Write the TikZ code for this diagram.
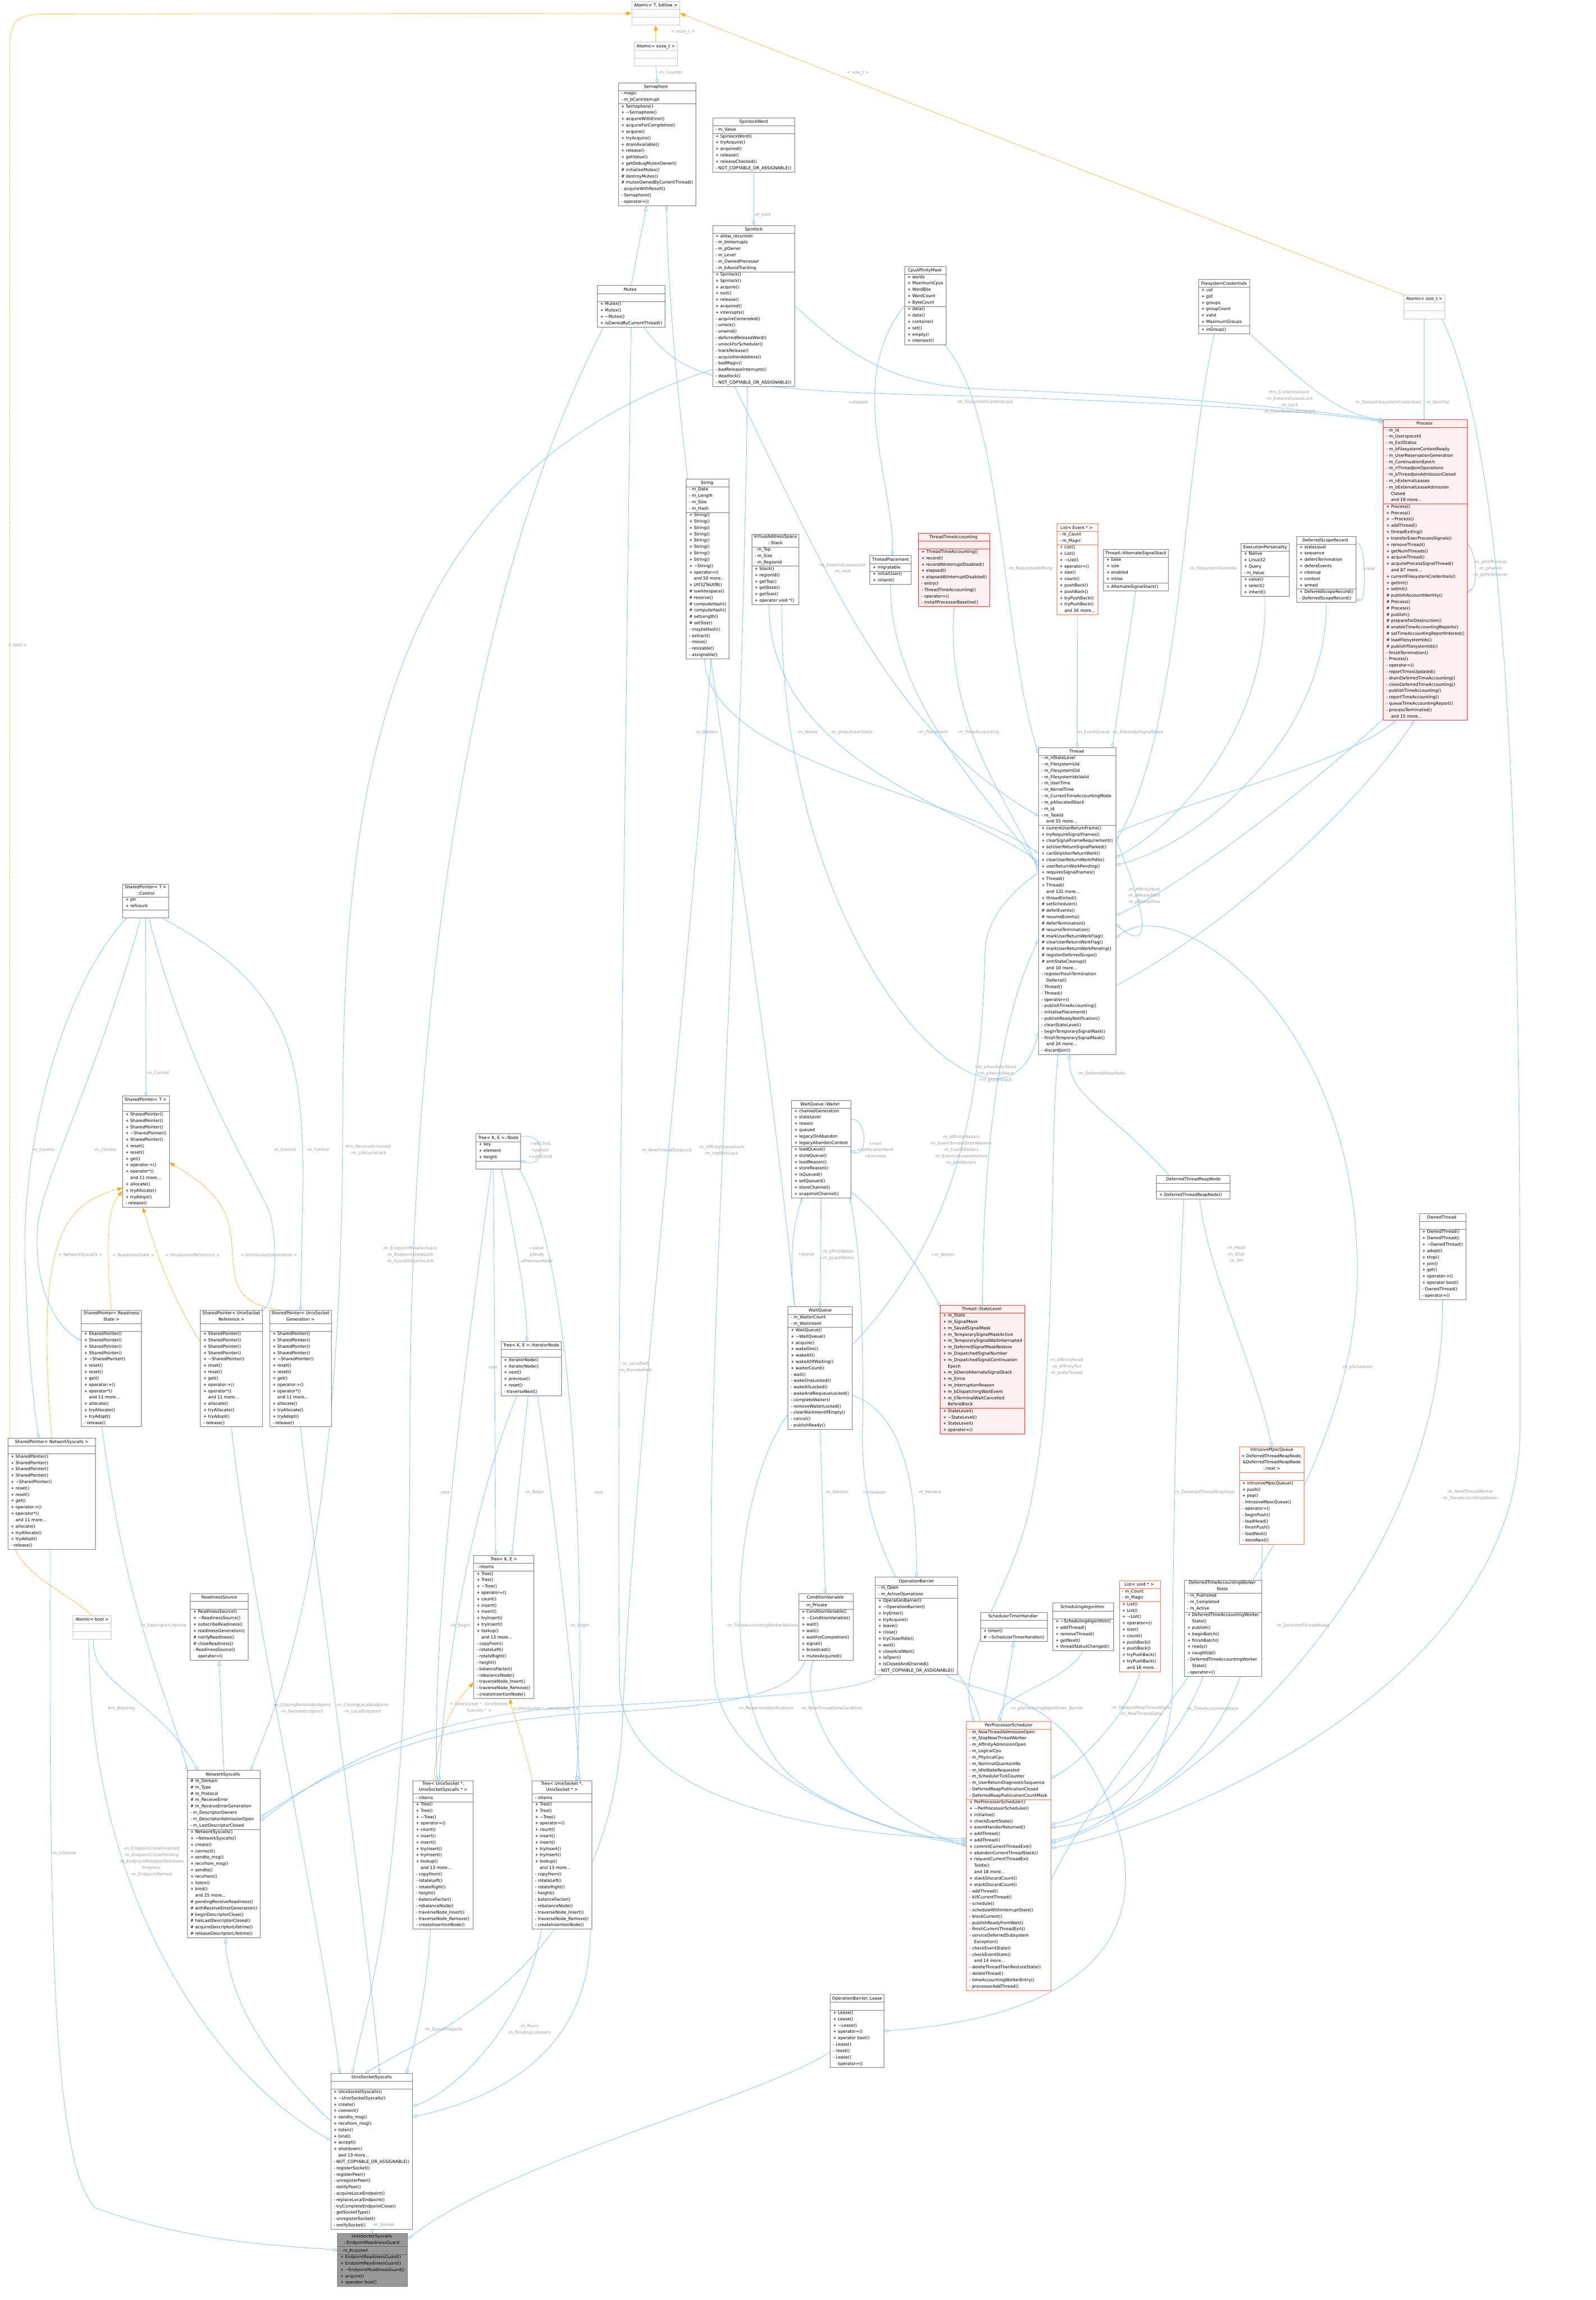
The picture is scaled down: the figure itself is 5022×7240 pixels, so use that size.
\documentclass[tikz,border=0pt]{standalone}
\usepackage{fontspec}
\setmainfont{DejaVu Sans}
\usetikzlibrary{calc,fit,arrows.meta,positioning}
\definecolor{edgeblue}{HTML}{63B8FF}
\definecolor{tmplorange}{HTML}{FFA500}
\definecolor{lblgray}{HTML}{9A9A9A}
\definecolor{boxgray}{HTML}{666666}
\definecolor{lightgray}{HTML}{BFBFBF}
\definecolor{redfill}{HTML}{FFF0F0}
\definecolor{orangered}{HTML}{FF5722}
\pgfdeclarelayer{edges}
\pgfdeclarelayer{boxes}
\pgfsetlayers{edges,boxes,main}
\newcommand{\mo}{\hphantom{+ }}
% one class box: title, attributes, methods
\newcommand{\umlclass}[7][plain]{%
  \node[ttl, minimum width=#4*0.25pt, anchor=north west] (#2-t) at (#3) {#5};
  \node[sec, anchor=north west] (#2-a) at (#2-t.south west) {#6};
  \node[sec, anchor=north west] (#2-m) at (#2-a.south west) {#7};
  \begin{pgfonlayer}{boxes}
    \node[fit=(#2-t)(#2-a)(#2-m), inner sep=0, #1] (#2) {};
    \draw[#1, fill=none] (#2-a.north -| #2.west) -- (#2-a.north -| #2.east);
    \draw[#1, fill=none] (#2-m.north -| #2.west) -- (#2-m.north -| #2.east);
  \end{pgfonlayer}}
\tikzset{
  txt/.style={font=\fontsize{3.3}{5}\selectfont},
  ttl/.style={txt, align=center, inner xsep=1pt, inner ysep=0.4pt,
    execute at begin node=\strut, execute at end node=\strut},
  sec/.style={txt, align=left, inner xsep=2pt, inner ysep=0.4pt,
    execute at begin node=\strut, execute at end node=\strut},
  plain/.style={draw=boxgray, fill=white, line width=0.3pt},
  light/.style={draw=lightgray, fill=white, line width=0.3pt},
  redbox/.style={draw=red, fill=redfill, line width=0.35pt},
  orbox/.style={draw=orangered, fill=white, line width=0.35pt},
  focus/.style={draw=boxgray, fill=black!40, line width=0.35pt},
  lbl/.style={txt, text=lblgray, align=center, inner sep=0},
  agg/.style={draw=edgeblue, line width=0.3pt, -{Diamond[open, length=4pt, width=2.4pt]}},
  inh/.style={draw=edgeblue, line width=0.3pt, -{Triangle[open, length=4pt, width=3pt]}},
  tmpl/.style={draw=tmplorange, line width=0.3pt, dash pattern=on 3pt off 0.4pt, -{Triangle[length=4pt, width=3pt]}}
}
\begin{document}
\catcode`\_=12
\catcode`\~=12
\begin{tikzpicture}[x=0.25pt, y=-0.25pt]
\useasboundingbox (0,0) rectangle (5022,7240);

% top row
\umlclass[light]{atomict}{1988,5}{150}{Atomic< T, bAllow >}{}{}
\umlclass[light]{atomicss}{1996,133}{135}{Atomic< ssize_t >}{}{}
\umlclass{sem}{1946,261}{235}{Semaphore}{- magic\\- m_bCanInterrupt}{+ Semaphore()\\+ ~Semaphore()\\+ acquireWithError()\\+ acquireForCompletion()\\+ acquire()\\+ tryAcquire()\\+ drainAvailable()\\+ release()\\+ getValue()\\+ getDebugMutexOwner()\\\# initialiseMutex()\\\# destroyMutex()\\\# mutexOwnedByCurrentThread()\\- acquireWithResult()\\- Semaphore()\\- operator=()}
\umlclass{spw}{2243,371}{257}{SpinlockWord}{- m_Value}{+ SpinlockWord()\\+ tryAcquire()\\+ acquired()\\+ release()\\+ releaseChecked()\\- NOT_COPYABLE_OR_ASSIGNABLE()}
\umlclass{spin}{2243,710}{257}{Spinlock}{+ allow_recursion\\- m_bInterrupts\\- m_pOwner\\- m_Level\\- m_OwnedProcessor\\- m_bAvoidTracking}{+ Spinlock()\\+ Spinlock()\\+ acquire()\\+ exit()\\+ release()\\+ acquired()\\+ interrupts()\\- acquireContended()\\- unlock()\\- unwind()\\- deferredReleaseWord()\\- unlockForScheduler()\\- trackRelease()\\- acquisitionAddress()\\- badMagic()\\- badReleaseInterrupts()\\- deadlock()\\- NOT_COPYABLE_OR_ASSIGNABLE()}
\umlclass{mutex}{1880,899}{205}{Mutex}{}{+ Mutex()\\+ Mutex()\\+ ~Mutex()\\+ isOwnedByCurrentThread()}
\umlclass{cpu}{2847,839}{126}{CpuAffinityMask}{+ words\\+ MaximumCpus\\+ WordBits\\+ WordCount\\+ ByteCount}{+ data()\\+ data()\\+ contains()\\+ set()\\+ empty()\\+ intersect()}
\umlclass{fscred}{3772,880}{159}{FilesystemCredentials}{+ uid\\+ gid\\+ groups\\+ groupCount\\+ valid\\+ MaximumGroups}{+ inGroup()}
\umlclass[light]{atomicst}{4418,929}{128}{Atomic< size_t >}{}{}
\umlclass[redbox]{proc}{4354,1321}{257}{Process}{- m_Id\\- m_UserspaceId\\- m_ExitStatus\\- m_bFilesystemContextReady\\- m_UserReservationGeneration\\- m_ContinuationEpoch\\- m_nThreadJoinOperations\\- m_bThreadJoinAdmissionClosed\\- m_nExternalLeases\\- m_bExternalLeaseAdmission\\\mo Closed\\\mo and 19 more...}{+ Process()\\+ Process()\\+ ~Process()\\+ addThread()\\+ threadExiting()\\+ transferExecProcessSignals()\\+ removeThread()\\+ getNumThreads()\\+ acquireThread()\\+ acquireProcessSignalThread()\\\mo and 87 more...\\+ currentFilesystemCredentials()\\+ getInit()\\+ setInit()\\\# publishAccountIdentity()\\\# Process()\\\# Process()\\\# publish()\\\# prepareForDestruction()\\\# enableTimeAccountingReports()\\\# setTimeAccountingReportInterest()\\\# loadFilesystemIds()\\\# publishFilesystemIds()\\- finishTermination()\\- Process()\\- operator=()\\- reportTimesUpdated()\\- drainDeferredTimeAccounting()\\- closeDeferredTimeAccounting()\\- publishTimeAccounting()\\- reportTimeAccounting()\\- queueTimeAccountingReport()\\- processTerminated()\\\mo and 15 more...}

% second row
\umlclass{string}{2160,1508}{129}{String}{- m_Data\\- m_Length\\- m_Size\\- m_Hash}{+ String()\\+ String()\\+ String()\\+ String()\\+ String()\\+ String()\\+ String()\\+ String()\\+ ~String()\\+ operator=()\\\mo and 50 more...\\+ Utf32ToUtf8()\\\# iswhitespace()\\\# reserve()\\\# computeHash()\\\# computeHash()\\\# setLength()\\\# setSize()\\- maybeHash()\\- extract()\\- move()\\- resizable()\\- assignable()}
\umlclass{stack}{2366,1681}{147}{VirtualAddressSpace\\::Stack}{- m_Top\\- m_Size\\- m_RegionId}{+ Stack()\\+ regionId()\\+ getTop()\\+ getBase()\\+ getSize()\\+ operator void *()}
\umlclass{place}{2738,1749}{128}{ThreadPlacement}{+ migratable}{+ initialUser()\\+ inherit()}
\umlclass[redbox]{tta}{2891,1679}{217}{ThreadTimeAccounting}{}{+ ThreadTimeAccounting()\\+ record()\\+ recordAtInterruptDisabled()\\+ elapsed()\\+ elapsedAtInterruptDisabled()\\- entry()\\- ThreadTimeAccounting()\\- operator=()\\- installProcessorBaseline()}
\umlclass[orbox]{listev}{3326,1649}{123}{List< Event * >}{- m_Count\\- m_Magic}{+ List()\\+ List()\\+ ~List()\\+ operator=()\\+ size()\\+ count()\\+ pushBack()\\+ pushBack()\\+ tryPushBack()\\+ tryPushBack()\\\mo and 16 more...}
\umlclass{altss}{3473,1729}{202}{Thread::AlternateSignalStack}{+ base\\+ size\\+ enabled\\+ inUse}{+ AlternateSignalStack()}
\umlclass{pers}{3906,1710}{150}{ExecutionPersonality}{+ Native\\+ Linux32\\+ Query\\- m_Value}{+ value()\\+ select()\\+ inherit()}
\umlclass{dsr}{4081,1689}{178}{DeferredScopeRecord}{+ stateLevel\\+ sequence\\+ defersTermination\\+ defersEvents\\+ cleanup\\+ context\\+ armed}{+ DeferredScopeRecord()\\- DeferredScopeRecord()}

\umlclass{thread}{3269,2353}{237}{Thread}{- m_nStateLevel\\- m_FilesystemUid\\- m_FilesystemGid\\- m_FilesystemIdsValid\\- m_UserTime\\- m_KernelTime\\- m_CurrentTimeAccountingMode\\- m_pAllocatedStack\\- m_Id\\- m_TaskId\\\mo and 55 more...}{+ currentUserReturnFrame()\\+ tryRequireSignalFrames()\\+ clearSignalFrameRequirement()\\+ setUserReturnSignalParked()\\+ canSkipUserReturnWork()\\+ clearUserReturnWorkIfIdle()\\+ userReturnWorkPending()\\+ requiresSignalFrames()\\+ Thread()\\+ Thread()\\\mo and 132 more...\\+ threadExited()\\\# setScheduler()\\\# deferEvents()\\\# resumeEvents()\\\# deferTermination()\\\# resumeTermination()\\\# markUserReturnWorkFlag()\\\# clearUserReturnWorkFlag()\\\# markUserReturnWorkPending()\\\# registerDeferredScope()\\\# armStateCleanup()\\\mo and 10 more...\\- registerFreshTermination\\\mo Deferral()\\- Thread()\\- Thread()\\- operator=()\\- publishTimeAccounting()\\- initialisePlacement()\\- publishReadyNotification()\\- cleanStateLevel()\\- beginTemporarySignalMask()\\- finishTemporarySignalMask()\\\mo and 24 more...\\- discardJoin()}

% shared pointers
\umlclass{control}{386,2784}{143}{SharedPointer< T >\\::Control}{+ ptr\\+ refcount}{}
\umlclass{sp}{386,3450}{143}{SharedPointer< T >}{}{+ SharedPointer()\\+ SharedPointer()\\+ SharedPointer()\\+ ~SharedPointer()\\+ SharedPointer()\\+ reset()\\+ reset()\\+ get()\\+ operator->()\\+ operator*()\\\mo and 11 more...\\+ allocate()\\+ tryAllocate()\\+ tryAdopt()\\- release()}
\umlclass{sprs}{256,4125}{188}{SharedPointer< Readiness\\State >}{}{+ SharedPointer()\\+ SharedPointer()\\+ SharedPointer()\\+ SharedPointer()\\+ ~SharedPointer()\\+ reset()\\+ reset()\\+ get()\\+ operator->()\\+ operator*()\\\mo and 11 more...\\+ allocate()\\+ tryAllocate()\\+ tryAdopt()\\- release()}
\umlclass{spur}{631,4125}{193}{SharedPointer< UnixSocket\\Reference >}{}{+ SharedPointer()\\+ SharedPointer()\\+ SharedPointer()\\+ SharedPointer()\\+ ~SharedPointer()\\+ reset()\\+ reset()\\+ get()\\+ operator->()\\+ operator*()\\\mo and 11 more...\\+ allocate()\\+ tryAllocate()\\+ tryAdopt()\\- release()}
\umlclass{spug}{849,4125}{192}{SharedPointer< UnixSocket\\Generation >}{}{+ SharedPointer()\\+ SharedPointer()\\+ SharedPointer()\\+ SharedPointer()\\+ ~SharedPointer()\\+ reset()\\+ reset()\\+ get()\\+ operator->()\\+ operator*()\\\mo and 11 more...\\+ allocate()\\+ tryAllocate()\\+ tryAdopt()\\- release()}
\umlclass{spns}{25,4527}{274}{SharedPointer< NetworkSyscalls >}{}{+ SharedPointer()\\+ SharedPointer()\\+ SharedPointer()\\+ SharedPointer()\\+ ~SharedPointer()\\+ reset()\\+ reset()\\+ get()\\+ operator->()\\+ operator*()\\\mo and 11 more...\\+ allocate()\\+ tryAllocate()\\+ tryAdopt()\\- release()}

% trees
\umlclass{tnode}{1498,3569}{139}{Tree< K, E >::Node}{+ key\\+ element\\+ height}{}
\umlclass{titer}{1577,4223}{188}{Tree< K, E >::IteratorNode}{}{+ IteratorNode()\\+ IteratorNode()\\+ next()\\+ previous()\\+ reset()\\- traverseNext()}
\umlclass{tke}{1491,4896}{188}{Tree< K, E >}{- nItems}{+ Tree()\\+ Tree()\\+ ~Tree()\\+ operator=()\\+ count()\\+ insert()\\+ insert()\\+ tryInsert()\\+ tryInsert()\\+ lookup()\\\mo and 13 more...\\- copyFrom()\\- rotateLeft()\\- rotateRight()\\- height()\\- balanceFactor()\\- rebalanceNode()\\- traverseNode_Insert()\\- traverseNode_Remove()\\- createInsertionNode()}
\umlclass{tusss}{1300,5606}{188}{Tree< UnixSocket *,\\UnixSocketSyscalls * >}{- nItems}{+ Tree()\\+ Tree()\\+ ~Tree()\\+ operator=()\\+ count()\\+ insert()\\+ insert()\\+ tryInsert()\\+ tryInsert()\\+ lookup()\\\mo and 13 more...\\- copyFrom()\\- rotateLeft()\\- rotateRight()\\- height()\\- balanceFactor()\\- rebalanceNode()\\- traverseNode_Insert()\\- traverseNode_Remove()\\- createInsertionNode()}
\umlclass{tus}{1675,5606}{186}{Tree< UnixSocket *,\\UnixSocket * >}{- nItems}{+ Tree()\\+ Tree()\\+ ~Tree()\\+ operator=()\\+ count()\\+ insert()\\+ insert()\\+ tryInsert()\\+ tryInsert()\\+ lookup()\\\mo and 13 more...\\- copyFrom()\\- rotateLeft()\\- rotateRight()\\- height()\\- balanceFactor()\\- rebalanceNode()\\- traverseNode_Insert()\\- traverseNode_Remove()\\- createInsertionNode()}

% wait queues
\umlclass{waiter}{2491,3464}{179}{WaitQueue::Waiter}{+ channelGeneration\\+ stateLevel\\+ reason\\+ queued\\+ legacyOnAbandon\\+ legacyAbandonContext}{+ loadQueue()\\+ storeQueue()\\+ loadReason()\\+ storeReason()\\+ isQueued()\\+ setQueued()\\+ storeChannel()\\+ snapshotChannel()}
\umlclass{waitq}{2480,4113}{201}{WaitQueue}{- m_WaiterCount\\- m_WaitIntent}{+ WaitQueue()\\+ ~WaitQueue()\\+ acquire()\\+ wakeOne()\\+ wakeAll()\\+ wakeAllIfWaiting()\\+ waiterCount()\\- wait()\\- wakeOneLocked()\\- wakeAllLocked()\\- wakeAndRequeueLocked()\\- completeWaiter()\\- removeWaiterLocked()\\- clearWaitIntentIfEmpty()\\- cancel()\\- publishReady()}
\umlclass[redbox]{sl}{2959,4108}{259}{Thread::StateLevel}{+ m_State\\+ m_SignalMask\\+ m_SavedSignalMask\\+ m_TemporarySignalMaskActive\\+ m_TemporarySignalWaitInterrupted\\+ m_DeferredSignalMaskRestore\\+ m_DispatchedSignalNumber\\+ m_DispatchedSignalContinuation\\\mo Epoch\\+ m_bOwnsAlternateSignalStack\\+ m_Errno\\+ m_InterruptionReason\\+ m_bDispatchingWaitEvent\\+ m_bTerminalWaitCancelled\\\mo BeforeBlock}{+ StateLevel()\\+ ~StateLevel()\\+ StateLevel()\\+ operator=()}
\umlclass{cv}{2514,5016}{165}{ConditionVariable}{\mo m_Private}{+ ConditionVariable()\\+ ~ConditionVariable()\\+ wait()\\+ wait()\\+ waitForCompletion()\\+ signal()\\+ broadcast()\\+ mutexAcquired()}
\umlclass{ob}{2755,4965}{257}{OperationBarrier}{- m_Open\\- m_ActiveOperations}{+ OperationBarrier()\\+ ~OperationBarrier()\\+ tryEnter()\\+ tryAcquire()\\+ leave()\\+ close()\\+ tryCloseIfIdle()\\+ wait()\\+ closeAndWait()\\+ isOpen()\\+ isClosedAndDrained()\\- NOT_COPYABLE_OR_ASSIGNABLE()}
\umlclass{lease}{2613,6278}{168}{OperationBarrier::Lease}{}{+ Lease()\\+ Lease()\\+ ~Lease()\\+ operator=()\\+ operator bool()\\- Lease()\\- reset()\\- Lease()\\\mo operator=()}

% scheduler
\umlclass{sth}{3086,5076}{203}{SchedulerTimerHandler}{}{+ timer()\\\# ~SchedulerTimerHandler()}
\umlclass{salg}{3313,5046}{185}{SchedulingAlgorithm}{}{+ ~SchedulingAlgorithm()\\+ addThread()\\+ removeThread()\\+ getNext()\\+ threadStatusChanged()}
\umlclass[orbox]{lv}{3523,4976}{123}{List< void * >}{- m_Count\\- m_Magic}{+ List()\\+ List()\\+ ~List()\\+ operator=()\\+ size()\\+ count()\\+ pushBack()\\+ pushBack()\\+ tryPushBack()\\+ tryPushBack()\\\mo and 16 more...}
\umlclass{dtaws}{3728,4974}{236}{DeferredTimeAccountingWorker\\State}{- m_Published\\- m_Completed\\- m_Active}{+ DeferredTimeAccountingWorker\\\mo State()\\+ publish()\\+ beginBatch()\\+ finishBatch()\\+ ready()\\+ caughtUp()\\- DeferredTimeAccountingWorker\\\mo State()\\- operator=()}
\umlclass[orbox]{pps}{3042,5419}{264}{PerProcessorScheduler}{- m_NewThreadAdmissionOpen\\- m_StopNewThreadWorker\\- m_AffinityAdmissionOpen\\- m_LogicalCpu\\- m_PhysicalCpu\\- m_NominalQuantumNs\\- m_IdleWakeRequested\\- m_SchedulerTickCounter\\- m_UserReturnDiagnosticSequence\\- DeferredReapPublicationClosed\\- DeferredReapPublicationCountMask}{+ PerProcessorScheduler()\\+ ~PerProcessorScheduler()\\+ initialise()\\+ checkEventState()\\+ eventHandlerReturned()\\+ addThread()\\+ addThread()\\+ commitCurrentThreadExit()\\+ abandonCurrentThreadStack()\\+ requestCurrentThreadExit\\\mo ToIdle()\\\mo and 18 more...\\+ stackDiscardCount()\\+ stackDiscardCount()\\- addThread()\\- killCurrentThread()\\- schedule()\\- scheduleWithInterruptState()\\- blockCurrent()\\- publishReadyFromWait()\\- finishCurrentThreadExit()\\- serviceDeferredSubsystem\\\mo Exception()\\- checkEventState()\\- checkEventState()\\\mo and 14 more...\\- deleteThreadThenRestoreState()\\- deleteThread()\\- timeAccountingWorkerEntry()\\- processorAddThread()}
\umlclass[orbox]{mpsc}{3901,4555}{202}{IntrusiveMpscQueue\\< DeferredThreadReapNode,\\ \&DeferredThreadReapNode\\::next >}{}{+ IntrusiveMpscQueue()\\+ push()\\+ pop()\\- IntrusiveMpscQueue()\\- operator=()\\- beginPush()\\- loadHead()\\- finishPush()\\- loadNext()\\- storeNext()}
\umlclass{drn}{3640,3700}{230}{DeferredThreadReapNode}{}{+ DeferredThreadReapNode()}
\umlclass{owned}{4467,3820}{139}{OwnedThread}{}{+ OwnedThread()\\+ OwnedThread()\\+ ~OwnedThread()\\+ adopt()\\+ stop()\\+ join()\\+ get()\\+ operator->()\\+ operator bool()\\- OwnedThread()\\- operator=()}

% sockets
\umlclass[light]{atomicb}{230,5086}{118}{Atomic< bool >}{}{}
\umlclass{rs}{599,5016}{180}{ReadinessSource}{}{+ ReadinessSource()\\+ ~ReadinessSource()\\+ subscribeReadiness()\\+ readinessGeneration()\\\# notifyReadiness()\\\# closeReadiness()\\- ReadinessSource()\\\mo operator=()}
\umlclass{netsys}{590,5573}{221}{NetworkSyscalls}{\# m_Domain\\\# m_Type\\\# m_Protocol\\\# m_ReceiveError\\\# m_ReceiveErrorGeneration\\- m_DescriptorOwners\\- m_DescriptorAdmissionOpen\\- m_LastDescriptorClosed}{+ NetworkSyscalls()\\+ ~NetworkSyscalls()\\+ create()\\+ connect()\\+ sendto_msg()\\+ recvfrom_msg()\\+ sendto()\\+ recvfrom()\\+ listen()\\+ bind()\\\mo and 25 more...\\\# pendingReceiveReadiness()\\\# withReceiveErrorGeneration()\\\# beginDescriptorClose()\\\# hasLastDescriptorClosed()\\\# acquireDescriptorLifetime()\\\# releaseDescriptorLifetime()}
\umlclass{uss}{1041,6527}{256}{UnixSocketSyscalls}{}{+ UnixSocketSyscalls()\\+ ~UnixSocketSyscalls()\\+ create()\\+ connect()\\+ sendto_msg()\\+ recvfrom_msg()\\+ listen()\\+ bind()\\+ accept()\\+ shutdown()\\\mo and 13 more...\\- NOT_COPYABLE_OR_ASSIGNABLE()\\- registerSocket()\\- registerPeer()\\- unregisterPeer()\\- notifyPeer()\\- acquireLocalEndpoint()\\- replaceLocalEndpoint()\\- tryCompleteEndpointClose()\\- getSocketType()\\- unregisterSocket()\\- notifySocket()}
\umlclass[focus]{guard}{1062,7031}{214}{UnixSocketSyscalls\\::EndpointReadinessGuard}{- m_Acquired}{+ EndpointReadinessGuard()\\+ EndpointReadinessGuard()\\+ ~EndpointReadinessGuard()\\+ acquire()\\+ operator bool()}

\begin{pgfonlayer}{edges}
% templates
\draw[tmpl] (atomicss.north) -- (atomict.south);
\draw[tmpl] (atomicst.north west) -- (atomict.east);
\draw[tmpl] (atomicb.north) .. controls (200,5000) and (30,4950) .. (30,4800) -- (30,150) .. controls (30,60) and (60,44) .. (150,44) -- (atomict.west);
\draw[tmpl] (spns.north) .. controls (110,3900) and (200,3790) .. ($(sp.north west)+(0,290)$);
\draw[tmpl] (sprs.north) .. controls (330,3900) and (340,3800) .. ($(sp.north west)+(0,300)$);
\draw[tmpl] ($(spur.north west)+(0,100)$) .. controls (520,4050) and (480,3900) .. ($(sp.south)+(-10,0)$);
\draw[tmpl] ($(spug.north)+(-60,0)$) .. controls (700,4100) and (750,4000) .. (720,3850) .. controls (690,3750) and (600,3700) .. ($(sp.north east)+(0,210)$);
\draw[tmpl] ($(tusss.north)+(-30,0)$) .. controls (1380,5450) and (1420,5370) .. ($(tke.south west)+(0,-50)$);
\draw[tmpl] ($(tus.north west)+(0,-5)$) .. controls (1640,5450) and (1610,5380) .. ($(tke.south)+(20,0)$);
% inheritance
\draw[inh] (mutex.north) -- ($(sem.south)+(-33,0)$);
\draw[inh] (netsys.north) -- (rs.south);
\draw[inh] ($(uss.north west)+(0,150)$) .. controls (850,6500) and (720,6300) .. ($(netsys.south)+(5,0)$);
\draw[inh] ($(pps.north)+(-25,0)$) -- (sth.south);
% aggregation: top
\draw[agg] (atomicss.south) -- (sem.north);
\draw[agg] (spw.south) -- (spin.north);
\draw[agg] ($(waitq.north)+(-80,0)$) .. controls (2400,3000) and (2110,1500) .. ($(sem.south)+(30,0)$);
\draw[agg] (cpu.west) .. controls (2660,1200) and (2810,1500) .. ($(place.north)+(6,0)$);
\draw[agg] ($(mutex.south)+(40,0)$) .. controls (2150,1200) and (2300,1230) .. (3000,1245) .. controls (3800,1270) and (4200,1300) .. ($(proc.north west)+(0,10)$);
\draw[agg] (spin.east) .. controls (2700,1150) and (2850,1215) .. (3100,1225) .. controls (3800,1250) and (4200,1300) .. ($(proc.north west)+(0,4)$);
\draw[agg] (fscred.south east) .. controls (4100,1200) and (4200,1300) .. ($(proc.north west)+(-2,2)$);
\draw[agg] (atomicst.south) -- ($(atomicst.south)+(0,327)$);
\draw[agg] ($(fscred.south)+(-30,0)$) .. controls (3720,1500) and (3720,2300) .. ($(thread.north east)+(0,294)$);
\draw[agg] ($(dsr.north east)+(0,20)$) .. controls (4300,1700) and (4300,1890) .. ($(dsr.north east)+(0,200)$);
\draw[agg] ($(proc.north east)+(0,390)$) .. controls (4650,1750) and (4650,1840) .. ($(proc.north east)+(0,545)$);
\draw[agg] ($(spin.south)+(-60,0)$) .. controls (2600,1800) and (2800,2300) .. ($(thread.north west)+(0,216)$);
\draw[agg] ($(cpu.south east)+(-5,0)$) .. controls (3160,1300) and (3150,2000) .. ($(thread.north west)+(0,20)$);
\draw[agg] ($(string.south)+(-10,0)$) .. controls (2230,2400) and (3000,2500) .. ($(thread.north west)+(0,333)$);
\draw[agg] ($(stack.south)+(-20,0)$) .. controls (2420,2400) and (3050,2550) .. ($(thread.north west)+(0,361)$);
\draw[agg] (place.south) .. controls (2800,2200) and (3100,2500) .. ($(thread.north west)+(0,374)$);
\draw[agg] (tta.south) .. controls (2970,2300) and (3200,2550) .. ($(thread.north west)+(0,392)$);
\draw[agg] (listev.south) -- (thread.north);
\draw[agg] (altss.south) -- ($(thread.north east)+(-11,0)$);
\draw[agg] ($(stack.south)+(20,0)$) .. controls (2450,3000) and (3150,3700) .. ($(thread.north west)+(0,897)$);
\draw[agg] ($(drn.north west)+(40,0)$) .. controls (3500,3500) and (3363,3450) .. ($(thread.south)+(-25,0)$);
\draw[agg] (pers.south) .. controls (3990,2300) and (3700,2600) .. ($(thread.north east)+(0,347)$);
\draw[agg] (dsr.south) .. controls (4178,2300) and (3800,2650) .. ($(thread.north east)+(0,371)$);
\draw[agg] ($(thread.north east)+(0,290)$) .. controls (3620,2900) and (3620,3000) .. ($(thread.north east)+(0,557)$);
\draw[agg] ($(thread.north east)+(0,750)$) .. controls (3900,2900) and (4300,2500) .. ($(proc.south)+(-35,0)$);
\draw[agg] ($(proc.south west)+(0,-5)$) .. controls (4100,2500) and (3700,2800) .. ($(thread.north east)+(0,529)$);
% shared pointer control
\draw[agg] (control.south) -- (sp.north);
\draw[agg] ($(control.south)+(-60,0)$) .. controls (200,3100) and (60,3600) .. (80,4000) .. controls (90,4300) and (110,4450) .. ($(spns.north)+(-40,0)$);
\draw[agg] ($(control.south)+(-15,0)$) .. controls (300,3400) and (140,3700) .. (120,3850) .. controls (100,4050) and (180,4180) .. ($(sprs.north west)+(0,95)$);
\draw[agg] ($(control.south)+(10,0)$) .. controls (600,3400) and (800,3700) .. (850,3820) .. controls (880,3950) and (860,4100) .. ($(spur.north east)+(-5,0)$);
\draw[agg] ($(control.south east)+(-20,0)$) .. controls (900,3100) and (950,3300) .. (954,3700) -- ($(spug.north)+(0,0)$);
\draw[agg] ($(spin.west)+(0,200)$) .. controls (1200,1500) and (1079,2500) .. (1079,3500) .. controls (1079,5000) and (850,5400) .. ($(netsys.north east)+(-30,0)$);
% trees
\draw[agg] ($(tnode.north east)+(0,10)$) .. controls (1720,3560) and (1720,3680) .. ($(tnode.north east)+(0,85)$);
\draw[agg] ($(tnode.south)+(10,0)$) .. controls (1620,3900) and (1660,4100) .. ($(titer.north)+(-14,0)$);
\draw[agg] ($(tnode.south)+(-15,0)$) -- ($(tke.north)+(-26,0)$);
\draw[agg] ($(titer.south)+(-10,0)$) -- ($(tke.north)+(25,0)$);
\draw[agg] ($(tnode.south)+(-22,0)$) .. controls (1480,4200) and (1361,5000) .. ($(tusss.north)+(-20,0)$);
\draw[agg] ($(titer.south west)+(50,0)$) .. controls (1500,4700) and (1400,5200) .. ($(tusss.north)+(-12,0)$);
\draw[agg] ($(tnode.south east)+(-5,0)$) .. controls (1830,4000) and (1840,5200) .. ($(tus.north)+(45,0)$);
\draw[agg] ($(titer.south)+(20,0)$) .. controls (1724,4590) and (1810,5300) .. ($(tus.north)+(55,0)$);
\draw[agg] ($(mutex.south west)+(20,0)$) .. controls (1400,2000) and (1290,3500) .. (1290,4500) .. controls (1290,6000) and (1150,6300) .. ($(uss.north)+(-60,0)$);
% wait queue
\draw[agg] (mutex.south) .. controls (1960,3000) and (1940,4500) .. (1950,5300) .. controls (1960,5700) and (2700,5780) .. ($(pps.north west)+(0,370)$);
\draw[agg] ($(spin.south)+(-20,0)$) .. controls (2330,3000) and (2200,4500) .. (2250,5300) .. controls (2300,5600) and (2800,5780) .. ($(pps.north west)+(0,386)$);
\draw[agg] ($(string.south)+(10,0)$) .. controls (2180,3000) and (2000,4500) .. (1960,5400) .. controls (1930,6200) and (1350,6400) .. ($(uss.north)+(-20,0)$);
\draw[agg] ($(waiter.north east)+(0,60)$) .. controls (2730,3520) and (2730,3640) .. ($(waiter.north east)+(0,160)$);
\draw[agg] ($(waitq.north east)+(0,120)$) .. controls (3000,3900) and (3090,3500) .. (3100,3000) .. controls (3110,2600) and (4100,2500) .. ($(proc.south west)+(40,0)$);
\draw[agg] ($(waitq.north)+(-80,0)$) .. controls (2480,3950) and (2500,3850) .. ($(waiter.south)+(-60,0)$);
\draw[agg] (waiter.south) -- (waitq.north);
\draw[agg] ($(waiter.south east)+(0,-20)$) .. controls (2800,3850) and (2900,4000) .. ($(sl.north west)+(0,5)$);
\draw[agg] ($(sl.north)+(-0,0)$) .. controls (3093,3600) and (3150,3200) .. ($(thread.north west)+(0,606)$);
\draw[agg] (waitq.south) -- ($(cv.north)+(-2,0)$);
\draw[agg] ($(pps.north)+(-90,0)$) .. controls (3040,5200) and (2700,5000) .. (2715,4500) .. controls (2720,4000) and (2690,3850) .. ($(waiter.south east)+(-3,0)$);
\draw[agg] ($(waitq.north east)+(0,280)$) .. controls (2850,4450) and (2887,4700) .. (ob.north);
\draw[agg] ($(waitq.north west)+(0,340)$) .. controls (2300,4700) and (2250,5400) .. (2500,5600) .. controls (2700,5750) and (2950,5790) .. ($(pps.north west)+(0,378)$);
\draw[agg] ($(cv.south west)+(20,0)$) .. controls (2500,5330) and (2300,5370) .. (1900,5390) .. controls (1300,5420) and (1000,5600) .. ($(netsys.north east)+(0,148)$);
\draw[agg] ($(cv.south)+(-40,0)$) .. controls (2505,5399) and (2700,5700) .. ($(pps.north west)+(0,394)$);
% scheduler
\draw[agg] (salg.south) .. controls (3350,5300) and (3150,5330) .. ($(pps.north)+(-30,0)$);
\draw[agg] ($(ob.south east)+(-40,0)$) .. controls (3100,5350) and (3350,5300) .. (3500,5700) .. controls (3650,6100) and (3400,6350) .. (lease.east);
\draw[agg] (lv.south) .. controls (3550,5400) and (3400,5550) .. ($(pps.north east)+(0,179)$);
\draw[agg] ($(dtaws.south west)+(60,0)$) .. controls (3700,5500) and (3500,5700) .. ($(pps.north east)+(0,325)$);
\draw[agg] ($(mpsc.south)+(-30,0)$) .. controls (3970,5400) and (3700,5700) .. ($(pps.north east)+(0,335)$);
\draw[agg] ($(drn.south)+(20,0)$) .. controls (3800,4000) and (3950,4300) .. (mpsc.north);
\draw[agg] ($(drn.south)+(-30,0)$) .. controls (3700,4300) and (3690,5000) .. (3690,5300) .. controls (3690,5600) and (3500,5750) .. ($(pps.north east)+(0,376)$);
\draw[agg] (owned.south) .. controls (4550,5000) and (3700,5700) .. ($(pps.north east)+(0,384)$);
\draw[agg] ($(atomicst.south east)+(-10,0)$) .. controls (4780,1500) and (4784,3000) .. (4784,4500) .. controls (4784,5300) and (3700,5750) .. ($(pps.north east)+(0,399)$);
\draw[agg] ($(pps.north east)+(0,500)$) .. controls (3500,5500) and (4270,4800) .. (4272,4000) .. controls (4272,3200) and (3700,2800) .. ($(thread.north east)+(0,600)$);
\draw[agg] ($(thread.south)+(-60,0)$) .. controls (3300,3600) and (3330,4300) .. (3250,4700) .. controls (3200,5000) and (3000,5200) .. ($(pps.north)+(-110,0)$);
% sockets
\draw[agg] ($(atomicb.south)+(5,0)$) .. controls (280,5300) and (500,5350) .. ($(netsys.north)+(-82,0)$);
\draw[agg] ($(atomicb.south)+(-10,0)$) .. controls (280,6000) and (700,6550) .. ($(uss.north west)+(0,210)$);
\draw[agg] ($(spns.south)+(-5,0)$) .. controls (157,6000) and (157,6800) .. (300,6950) .. controls (600,7060) and (900,7070) .. ($(guard.north west)+(0,52)$);
\draw[agg] ($(sprs.south)+(-30,0)$) .. controls (400,5100) and (520,5300) .. ($(netsys.north)+(-115,0)$);
\draw[agg] (spur.south) .. controls (780,5000) and (1000,6000) .. ($(uss.north)+(-100,0)$);
\draw[agg] (spug.south) .. controls (1000,5000) and (1150,6000) .. ($(uss.north)+(25,0)$);
\draw[agg] ($(tusss.south)+(-40,0)$) .. controls (1340,6300) and (1300,6450) .. ($(uss.north east)+(-20,0)$);
\draw[agg] ($(tus.south west)+(30,0)$) .. controls (1650,6400) and (1400,6600) .. ($(uss.north east)+(0,103)$);
\draw[agg] ($(tus.south east)+(-5,0)$) .. controls (1860,6500) and (1500,6620) .. ($(uss.north east)+(0,137)$);
\draw[agg] (uss.south) -- (guard.north);
\draw[agg] ($(lease.south west)+(0,-50)$) .. controls (2400,6600) and (1600,6800) .. ($(guard.north east)+(0,18)$);
\draw[agg] ($(ob.south west)+(20,0)$) .. controls (2700,5330) and (2400,5340) .. (1900,5370) .. controls (1300,5380) and (1000,5600) .. ($(netsys.north east)+(0,160)$);
\end{pgfonlayer}

% connector labels
\node[lbl] (l-ssize) at (2150,100) {< ssize_t >};
\node[lbl] (l-size) at (2700,229) {< size_t >};
\node[lbl] (l-bool) at (55,2030) {< bool >};
\node[lbl] (l-counter) at (2110,229) {-m_Counter};
\node[lbl] (l-lock) at (2400,677) {-m_Lock};
\node[lbl] (l-allowed) at (2700,1266) {+allowed};
\node[lbl] (l-fsctx) at (3100,1266) {-m_FilesystemContextLock};
\node[lbl] (l-credlock) at (4058,1266) {\#m_CredentialLock\\-m_ExternalLeaseLock\\-m_Lock\\-m_UserReservationLock};
\node[lbl] (l-nativecred) at (4369,1267) {-m_NativeFilesystemCredentials};
\node[lbl] (l-nexttid) at (4523,1267) {-m_NextTid};
\node[lbl] (l-fsover) at (3817,1790) {-m_FilesystemOverride};
\node[lbl] (l-next) at (4308,1790) {+next};
\node[lbl] (l-parent) at (4690,1790) {-m_pInitProcess\\-m_pParent\\-m_pVforkOwner};
\node[lbl] (l-extlock) at (2651,1789) {-m_ExternalLeaseLock\\-m_Lock};
\node[lbl] (l-reqaff) at (3243,1790) {-m_RequestedAffinity};
\node[lbl] (l-waiters1) at (2223,2306) {-m_Waiters};
\node[lbl] (l-name) at (2541,2306) {-m_Name};
\node[lbl] (l-input) at (2680,2306) {-m_pInputUserStack};
\node[lbl] (l-place) at (2936,2306) {-m_Placement};
\node[lbl] (l-tacc) at (3079,2306) {-m_TimeAccounting};
\node[lbl] (l-evq) at (3440,2306) {-m_EventQueue};
\node[lbl] (l-alt) at (3580,2306) {-m_AlternateSignalStack};
\node[lbl] (l-ready) at (3600,2820) {-m_AffinityNext\\-m_pReadyNext\\-m_pReadyPrev};
\node[lbl] (l-stacks) at (3133,3380) {+m_pAuxillaryStack\\+m_pKernelStack\\+m_pUserStack};
\node[lbl] (l-reap) at (3466,3380) {-m_DeferredReapNode};
\node[lbl] (l-ctl1) at (496,3379) {-m_Control};
\node[lbl] (l-ctl2) at (136,3620) {-m_Control};
\node[lbl] (l-ctl3) at (330,3620) {-m_Control};
\node[lbl] (l-ctl4) at (896,3620) {-m_Control};
\node[lbl] (l-ctl5) at (1000,3620) {-m_Control};
\node[lbl] (l-recv) at (1160,3620) {\#m_ReceiveErrorLock\\-m_LifecycleLock};
\node[lbl] (l-tns) at (253,3950) {< NetworkSyscalls >};
\node[lbl] (l-trs) at (420,3950) {< ReadinessState >};
\node[lbl] (l-tur) at (606,3950) {< UnixSocketReference >};
\node[lbl] (l-tug) at (846,3950) {< UnixSocketGeneration >};
\node[lbl] (l-child) at (1700,3621) {+leftChild\\+parent\\+rightChild};
\node[lbl] (l-value) at (1688,3950) {+value\\-pNode\\-pPreviousNode};
\node[lbl] (l-endp) at (1290,3950) {-m_EndpointMutationLock\\-m_EndpointStateLock\\-m_SyscallObjectsLock};
\node[lbl] (l-root1) at (1550,4304) {-root};
\node[lbl] (l-root2) at (1399,4698) {-root};
\node[lbl] (l-begin1) at (1682,4698) {-m_Begin};
\node[lbl] (l-root3) at (1883,4698) {-root};
\node[lbl] (l-begin2) at (1448,5117) {-m_Begin};
\node[lbl] (l-begin3) at (1824,5117) {-m_Begin};
\node[lbl] (l-tusss) at (1508,5375) {< UnixSocket *, UnixSocket\\Syscalls * >};
\node[lbl] (l-tus) at (1718,5378) {< UnixSocket *, UnixSocket * >};
\node[lbl] (l-ntdl) at (2097,3621) {-m_NewThreadDataLock};
\node[lbl] (l-aql) at (2270,3621) {-m_AffinityQueueLock\\-m_IrqWorkLock};
\node[lbl] (l-path) at (2000,4304) {-m_LocalPath\\-m_RemotePath};
\node[lbl] (l-wnext) at (2754,3621) {+next\\+notificationNext\\+previous};
\node[lbl] (l-pwait) at (3024,3620) {-m_AffinityWaiters\\-m_EventSenderDrainWaiters\\-m_EventWaiters\\-m_ExternalLeaseWaiters\\-m_JoinWaiters};
\node[lbl] (l-queue) at (2537,3950) {+queue};
\node[lbl] (l-first) at (2637,3950) {-m_pFirstWaiter\\-m_pLastWaiter};
\node[lbl] (l-mwaiter) at (2967,3950) {+m_Waiter};
\node[lbl] (l-waiters2) at (2633,4698) {-m_Waiters};
\node[lbl] (l-sched) at (2752,4698) {+scheduler};
\node[lbl] (l-waiters3) at (2925,4698) {-m_Waiters};
\node[lbl] (l-taww) at (2400,5117) {-m_TimeAccountingWorkerWaiters};
\node[lbl] (l-rn) at (2410,5378) {-m_ReadinessNotifications};
\node[lbl] (l-ntdc) at (2617,5378) {-m_NewThreadDataCondition};
\node[lbl] (l-salg) at (3264,5378) {-m_pSchedulingAlgorithm};
\node[lbl] (l-barrier) at (3375,5378) {-m_Barrier};
\node[lbl] (l-ntd) at (3590,5386) {-m_DelayedNewThreadData\\-m_NewThreadData};
\node[lbl] (l-tas) at (3815,5380) {-m_TimeAccountingState};
\node[lbl] (l-reaps) at (4100,5117) {-m_DeferredThreadReaps};
\node[lbl] (l-head) at (3890,3949) {-m_Head\\-m_Stub\\-m_Tail};
\node[lbl] (l-affh) at (3356,4302) {-m_AffinityHead\\-m_AffinityTail\\-m_pIdleThread};
\node[lbl] (l-psched) at (4272,4304) {-m_pScheduler};
\node[lbl] (l-stub) at (3790,4698) {-m_DeferredThreadReapStub};
\node[lbl] (l-worker) at (4627,4706) {-m_NewThreadWorker\\-m_TimeAccountingWorker};
\node[lbl] (l-desc) at (513,5117) {-m_DescriptorLifetime};
\node[lbl] (l-block) at (382,5378) {\#m_Blocking};
\node[lbl] (l-life) at (200,5834) {-m_Lifetime};
\node[lbl] (l-close) at (476,5860) {-m_EndpointCloseFinalized\\-m_EndpointClosePending\\-m_EndpointMutationReleaseIn\\Progress\\-m_EndpointRetired};
\node[lbl] (l-remote) at (950,5378) {-m_ClosingRemoteEndpoint\\-m_RemoteEndpoint};
\node[lbl] (l-local) at (1140,5378) {-m_ClosingLocalEndpoint\\-m_LocalEndpoint};
\node[lbl] (l-objs) at (1395,6389) {-m_SyscallObjects};
\node[lbl] (l-peers) at (1665,6389) {-m_Peers\\-m_PendingListeners};
\node[lbl] (l-socket) at (1207,7004) {-m_Socket};
\end{tikzpicture}
\end{document}
